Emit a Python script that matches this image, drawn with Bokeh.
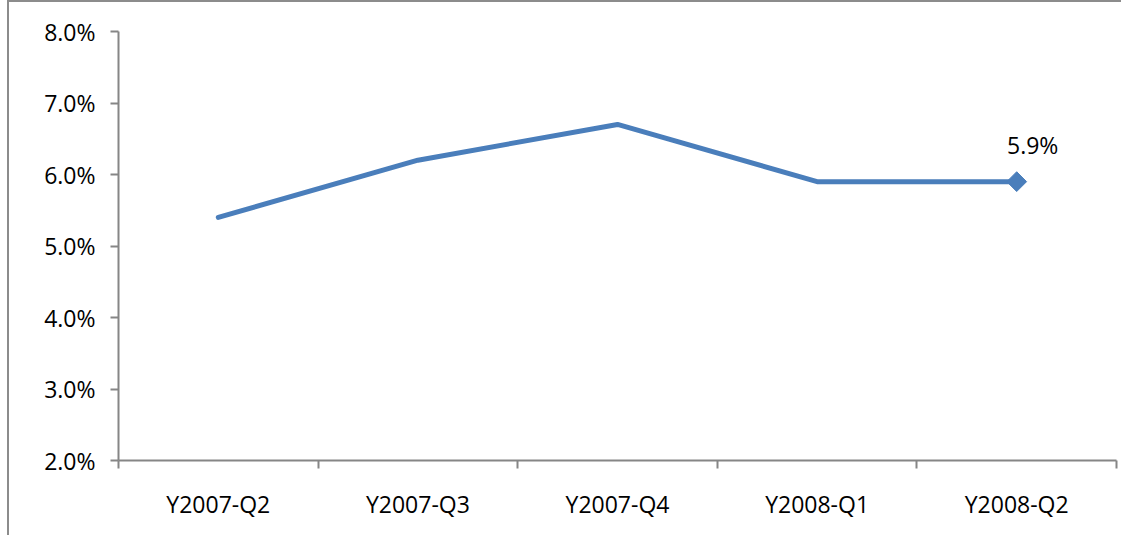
from bokeh.plotting import figure
from bokeh.models import FixedTicker, Range1d, ColumnDataSource, LabelSet
from bokeh.core.properties import value
from bokeh.embed import file_html
from bokeh.resources import INLINE
import math

categories = ["Y2007-Q2", "Y2007-Q3", "Y2007-Q4", "Y2008-Q1", "Y2008-Q2"]
values = [5.4, 6.2, 6.7, 5.9, 5.9]
y_ticks = [2, 3, 4, 5, 6, 7, 8]
last_label = ["5.9%"]

xs = [i + 0.5 for i in range(len(categories))]

p = figure(width=1114, height=535, output_backend="svg", toolbar_location=None,
           x_range=Range1d(0, len(categories)), y_range=Range1d(2, 8),
           min_border_left=109, min_border_right=7, min_border_top=29, min_border_bottom=77)
p.styles = {"border-left": "2px solid #8c8c8c", "border-top": "2px solid #8c8c8c",
            "margin-top": "0px", "margin-left": "7px"}
p.outline_line_color = None
p.grid.visible = False
p.background_fill_color = "white"
p.border_fill_color = "white"

font = "Open Sans"
axis_color = "#868686"
fs = "23px"

# y axis
ya = p.yaxis[0]
ya.ticker = FixedTicker(ticks=y_ticks, minor_ticks=[])
ya.major_label_overrides = {t: f"{t:.1f}%" for t in y_ticks}
ya.axis_line_color = axis_color
ya.axis_line_width = 2
ya.major_tick_line_color = axis_color
ya.major_tick_line_width = 2
ya.major_tick_out = 8
ya.major_tick_in = 0
ya.minor_tick_line_color = None
ya.major_label_standoff = 15
ya.major_label_text_font = font
ya.major_label_text_font_size = fs
ya.major_label_text_color = "black"

# x axis
xa = p.xaxis[0]
xa.ticker = FixedTicker(ticks=xs, minor_ticks=list(range(len(categories) + 1)))
xa.major_label_overrides = {x: c for x, c in zip(xs, categories)}
xa.axis_line_color = axis_color
xa.axis_line_width = 2
xa.major_tick_line_color = None
xa.major_tick_out = 0
xa.major_tick_in = 0
xa.minor_tick_line_color = axis_color
xa.minor_tick_line_width = 2
xa.minor_tick_out = 8
xa.minor_tick_in = 0
xa.major_label_standoff = 19
xa.major_label_text_font = font
xa.major_label_text_font_size = fs
xa.major_label_text_color = "black"

src = ColumnDataSource(dict(x=xs, y=values))
p.line("x", "y", source=src, line_color="#4a7ebb", line_width=5, line_cap="round", line_join="round")

last = ColumnDataSource(dict(x=[xs[-1]], y=[values[-1]], t=last_label))
p.scatter("x", "y", source=last, marker="square", size=14, angle=math.pi / 4,
          fill_color="#4a7ebb", line_color="#4a7ebb")
p.add_layout(LabelSet(x="x", y="y", text="t", source=last, x_offset=16, y_offset=37,
                      text_align="center", text_baseline="middle", text_font=value(font),
                      text_font_size=fs, text_color="black"))

open("out.html", "w").write(file_html(p, INLINE))
